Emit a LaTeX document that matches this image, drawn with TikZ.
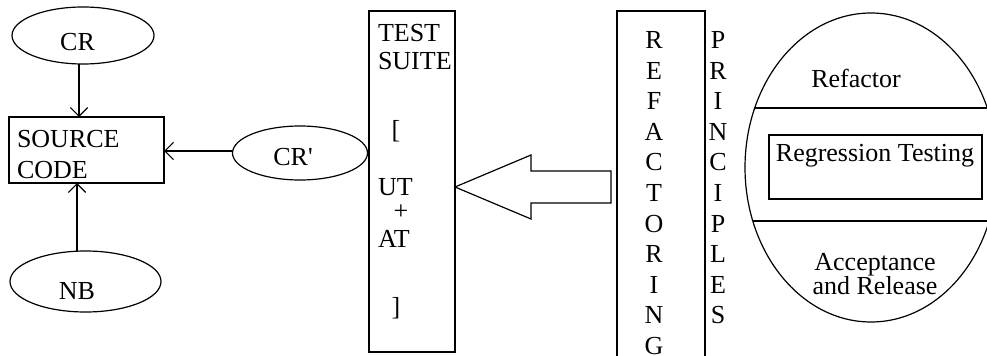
\documentclass[tikz,border=0pt]{standalone}
\usepackage{fontspec}
\setmainfont{Liberation Serif}
\usetikzlibrary{shapes.geometric,arrows.meta}
\begin{document}
\begin{tikzpicture}[x=0.75pt,y=-0.75pt,
  every node/.style={font=\fontsize{19.5pt}{23pt}\selectfont, inner sep=0pt, outer sep=0pt},
  oval/.style={draw, ellipse, line width=0.9pt},
  box/.style={draw, rectangle, line width=0.9pt},
  arr/.style={line width=0.9pt, -{Straight Barb[length=6.5pt,width=13pt]}},
  thin line/.style={line width=0.9pt}]
\useasboundingbox (0,0) rectangle (987,356);
\clip (0,0) rectangle (987,356);

% left part
\node[oval, minimum width=106.5pt, minimum height=42.75pt] (cr) at (83,35.5) {};
\node (crt) at (77.5,42.5) {CR};
\node[box, minimum width=116.25pt, minimum height=49.5pt] (sc) at (86.5,150) {};
\node[anchor=west] (sct1) at (17,139.5) {SOURCE};
\node[anchor=west] (sct2) at (17,170.5) {CODE};
\node[oval, minimum width=113.25pt, minimum height=45.75pt] (nb) at (85.5,281.5) {};
\node (nbt) at (77,291) {NB};
\node[oval, minimum width=101.25pt, minimum height=40.5pt] (crp) at (300,153) {};
\node (crpt) at (293,157) {CR\textquotesingle};

\coordinate (ax1) at (79,0);
\coordinate (ax2) at (77,0);
\coordinate (ay) at (0,151);
\draw[arr] (cr.south -| ax1) -- (sc.north -| ax1);
\draw[arr] (nb.north -| ax2) -- (sc.south -| ax2);
\draw[arr] (crp.west |- ay) -- (sc.east |- ay);

% test suite
\node[box, minimum width=64.5pt, minimum height=255.75pt] (ts) at (412,181.5) {};
\node[anchor=west] (ts1) at (378,33) {TEST};
\node[anchor=west] (ts2) at (378,61) {SUITE};
\node (ts3) at (396,131) {[};
\node[anchor=west] (ts4) at (378,187) {UT};
\node (ts5) at (401,212) {+};
\node[anchor=west] (ts6) at (378,239) {AT};
\node (ts7) at (396,308) {]};

% refactoring box
\node[box, minimum width=66pt, minimum height=269.25pt] (rf) at (661,190.5) {};
\foreach \l [count=\i from 0] in {R,E,F,A,C,T,O,R,I,N,G}
  \node (rfl\i) at (654,40+30.6*\i) {\l};
\foreach \l [count=\i from 0] in {P,R,I,N,C,I,P,L,E,S}
  \node (prl\i) at (718,40+30.6*\i) {\l};

% block arrow from refactoring to test suite
\coordinate (tip) at (ts.east |- 0,187);
\draw[thin line] (tip) -- (531,155) -- (531,171) -- (611,171) -- (611,203) -- (531,203) -- (531,219) -- cycle;

% big ellipse
\node[oval, minimum width=189pt, minimum height=231.75pt] (big) at (871,167.5) {};
\draw[thin line] (754.7,108) -- (990,108);
\draw[thin line] (752.8,221) -- (990,221);
\node (rft) at (856,78) {Refactor};
\node[box, minimum width=159.75pt, minimum height=48pt] (rg) at (875.5,167) {};
\node (rgt) at (875,156) {Regression Testing};
\node (acc1) at (875,265) {Acceptance};
\node (acc2) at (875,286) {and Release};
\end{tikzpicture}
\end{document}
